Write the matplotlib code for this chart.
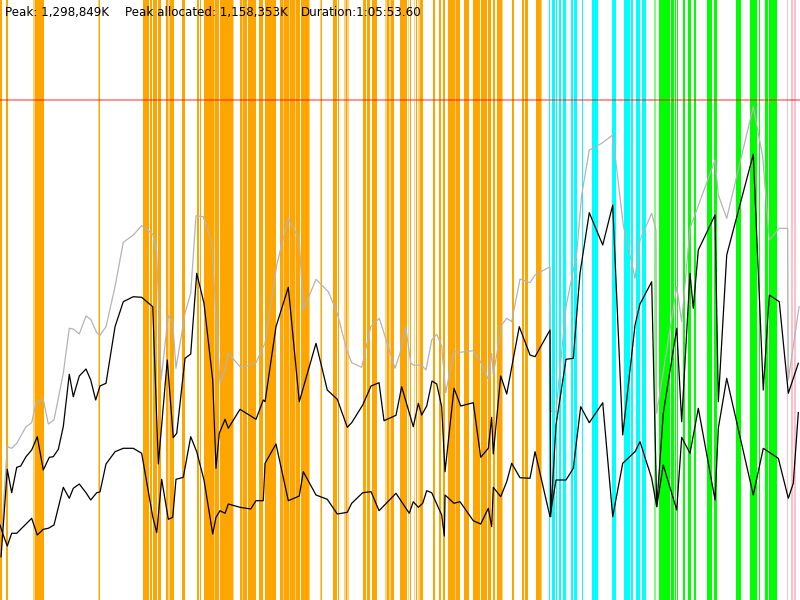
import matplotlib
matplotlib.use("Agg")
import matplotlib.pyplot as plt

# Units: x = % of run duration (1:05:53.60), y = % of peak heap (1,298,849K)
peak_label = "Peak: 1,298,849K"
alloc_label = "Peak allocated: 1,158,353K"
dur_label = "Duration:1:05:53.60"
peak_level = 100.0

heap_x = [0.21, 0.91, 1.46, 2.09, 3.25, 3.96, 4.5, 5.41, 6.04, 6.75, 7.91, 8.66, 9.16, 9.91,
          10.75, 11.34, 12.09, 12.5, 13.25, 14.38, 15.41, 16.66, 17.71, 19.09, 19.59, 20.13,
          21.04, 21.59, 22.0, 23.13, 23.84, 24.5, 25.41, 26.46, 27.5, 28.13, 28.54, 30.0, 30.84,
          32.0, 32.91, 33.13, 34.59, 36.04, 37.41, 37.91, 39.5, 41.04, 42.16, 43.34, 43.96,
          45.21, 46.34, 47.41, 48.34, 49.38, 50.0, 50.71, 51.34, 51.66, 52.71, 53.25, 53.96,
          54.59, 55.21, 55.71, 56.75, 57.5, 59.16, 60.0, 61.04, 61.46, 61.66, 62.71, 63.34,
          63.96, 65.0, 66.25, 66.88, 68.75, 68.88, 69.5, 70.75, 72.09, 72.71, 73.66, 75.21,
          76.59, 77.91, 79.38, 80.0, 81.46, 82.0, 82.09, 84.59, 85.21, 86.25, 89.38, 89.79,
          90.84, 94.16, 95.34, 96.16, 97.41, 98.46, 98.54, 99.88]
heap_y = [13.4, 30.66, 30.34, 31.34, 34.66, 35.46, 39.46, 40.14, 35.2, 36.0, 45.34, 54.34, 54.2,
          53.2, 56.8, 56.14, 53.46, 52.94, 54.66, 62.66, 71.54, 73.0, 74.86, 73.2, 69.66, 44.0,
          57.0, 55.46, 46.34, 57.34, 61.34, 76.86, 76.66, 71.66, 43.34, 46.0, 49.34, 46.66, 46.8,
          47.46, 50.66, 51.34, 67.0, 76.34, 72.14, 58.0, 64.14, 61.66, 57.34, 50.0, 47.46,
          46.54, 54.66, 56.34, 51.66, 46.34, 49.34, 54.66, 47.46, 47.0, 46.94, 46.0, 52.0,
          53.14, 50.8, 41.46, 49.66, 49.54, 49.86, 47.86, 44.14, 49.34, 45.0, 55.0, 56.34,
          55.66, 64.2, 63.46, 65.0, 66.66, 37.66, 37.66, 58.66, 69.34, 81.0, 90.0, 91.34,
          93.0, 75.0, 64.34, 72.0, 77.34, 74.0, 37.34, 62.66, 55.66, 74.34, 88.0, 81.0,
          76.34, 98.66, 88.66, 72.0, 74.34, 74.34, 44.0, 58.66]

used_x = [0.13, 0.91, 1.46, 2.09, 2.59, 3.25, 3.96, 4.66, 5.41, 6.16, 6.66, 7.29, 7.91, 8.66,
          9.16, 9.91, 10.75, 11.34, 11.96, 12.5, 13.25, 14.38, 15.41, 16.66, 17.71, 19.09,
          19.79, 20.91, 21.66, 22.09, 23.13, 23.84, 24.59, 25.5, 26.59, 27.0, 27.41, 28.13,
          28.54, 30.0, 32.0, 32.91, 33.13, 34.5, 36.04, 37.41, 39.5, 40.91, 42.16, 43.41,
          43.96, 45.34, 46.38, 47.38, 48.0, 49.5, 50.21, 51.66, 52.29, 52.71, 53.34, 54.0,
          54.59, 55.21, 55.63, 56.75, 57.59, 59.16, 60.09, 61.04, 61.46, 61.66, 62.59, 63.34,
          64.91, 66.25, 66.88, 68.75, 68.84, 69.5, 70.75, 71.66, 72.5, 73.66, 75.34, 76.59,
          77.84, 79.38, 80.0, 81.46, 82.09, 82.91, 84.59, 85.21, 86.25, 86.66, 87.29, 89.38,
          89.79, 90.84, 94.16, 95.41, 96.16, 97.41, 98.54, 99.79]
used_y = [8.66, 26.14, 21.46, 26.54, 26.8, 28.66, 30.0, 32.66, 26.0, 28.54, 28.66, 30.14, 34.66,
          45.14, 40.66, 44.8, 46.2, 44.0, 40.0, 42.8, 43.34, 54.66, 59.66, 60.66, 60.54, 58.66,
          27.2, 48.0, 32.46, 33.34, 48.34, 49.2, 65.34, 59.34, 44.0, 26.34, 33.34, 36.14,
          34.34, 38.14, 36.14, 40.0, 39.66, 54.66, 62.54, 39.66, 51.34, 42.0, 40.14, 34.54,
          35.46, 39.0, 42.8, 43.46, 35.86, 36.94, 42.66, 34.66, 39.34, 37.0, 38.8, 43.8,
          43.2, 38.66, 25.66, 42.34, 38.8, 39.46, 28.54, 30.34, 36.54, 29.2, 44.8, 41.2,
          54.66, 49.0, 48.66, 54.0, 16.66, 35.0, 48.14, 48.34, 65.34, 77.46, 71.0, 79.0,
          33.0, 55.0, 59.2, 63.66, 18.66, 37.34, 54.34, 35.66, 65.34, 58.34, 70.0, 77.0,
          39.66, 69.0, 89.14, 42.0, 61.0, 59.66, 41.34, 47.34]

live_x = [0.0, 0.41, 0.91, 1.46, 2.09, 2.71, 3.34, 3.96, 4.66, 5.41, 6.04, 6.75, 7.91, 8.66,
          9.16, 9.91, 10.75, 11.34, 12.09, 12.5, 13.25, 14.38, 15.41, 16.66, 17.71, 19.09,
          19.59, 20.21, 21.04, 21.59, 22.0, 22.91, 23.84, 24.59, 25.5, 26.59, 27.0, 27.5,
          28.13, 28.54, 30.0, 31.34, 32.0, 32.91, 33.13, 34.5, 36.04, 37.41, 37.91, 39.5,
          40.91, 42.16, 43.41, 43.96, 45.34, 46.38, 47.38, 49.5, 51.16, 51.66, 52.29, 52.84,
          53.34, 53.96, 55.21, 55.54, 55.63, 56.75, 57.5, 59.16, 60.09, 61.04, 61.46, 61.66,
          62.59, 63.34, 63.96, 65.0, 66.25, 66.88, 68.75, 69.5, 70.75, 71.66, 72.59, 73.66,
          75.34, 76.59, 77.84, 79.38, 80.0, 81.46, 82.09, 82.91, 84.59, 85.21, 86.25, 87.29,
          89.38, 89.79, 90.84, 94.16, 95.41, 97.29, 98.54, 99.16, 99.79]
live_y = [15.0, 13.0, 10.8, 13.34, 13.34, 14.34, 15.34, 16.34, 13.0, 14.14, 14.34, 15.0, 22.54,
          20.34, 22.34, 23.2, 21.46, 20.0, 21.46, 21.6, 27.2, 29.66, 30.34, 30.34, 29.34, 16.66,
          13.46, 24.14, 16.14, 16.54, 24.14, 24.54, 32.66, 29.66, 24.0, 13.2, 16.54, 17.86,
          17.34, 19.2, 18.54, 18.2, 19.86, 19.86, 27.34, 31.2, 19.86, 20.8, 25.66, 21.0,
          20.14, 17.2, 17.54, 19.34, 21.46, 21.66, 17.86, 21.34, 17.34, 19.66, 18.54, 19.34,
          21.86, 21.46, 17.0, 12.8, 21.0, 19.34, 19.66, 15.86, 15.2, 18.34, 14.66, 22.54,
          20.66, 23.66, 27.34, 24.46, 24.34, 29.66, 16.66, 24.0, 24.0, 26.34, 38.66, 35.46,
          39.46, 16.66, 27.34, 29.66, 31.66, 24.34, 18.66, 27.0, 18.0, 32.54, 29.34, 38.34,
          20.0, 34.34, 44.34, 21.0, 30.34, 28.34, 20.34, 23.34, 37.46]

# GC event bands: start, width (% of duration), kind
band_start = [0.0, 0.75, 4.13, 4.38, 12.21, 12.38, 17.84, 18.38, 18.71, 19.13, 19.75, 20.71,
              21.04, 21.25, 22.71, 24.59, 25.0, 25.5, 26.71, 26.84, 27.5, 29.09, 30.0, 30.21,
              30.34, 30.96, 32.38, 33.09, 35.0, 35.38, 35.5, 36.13, 36.25, 36.88, 37.0, 37.66,
              38.63, 40.0, 40.09, 41.59, 42.21, 43.0, 43.19, 45.41, 45.84, 46.46, 48.16, 48.34,
              48.63, 48.84, 50.0, 51.04, 51.25, 51.75, 52.0, 52.29, 52.5, 52.84, 54.16, 54.91,
              55.34, 56.04, 56.34, 56.41, 56.88, 56.96, 58.0, 59.09, 60.09, 61.0, 61.59, 62.16,
              62.71, 63.96, 65.25, 65.66, 67.0, 67.63,
              68.63, 68.96, 69.5, 69.84, 70.34, 71.38, 71.79, 72.71, 73.96, 76.46, 78.0, 78.88,
              79.5, 80.25,
              81.79, 82.41, 83.41, 83.88, 84.38, 84.59, 85.41, 86.04, 86.75, 88.41, 89.25, 92.0,
              93.75, 94.04, 94.71, 94.91, 95.63, 96.16, 96.5,
              98.34, 98.88, 99.29]
band_width = [0.25, 0.21, 0.25, 1.12, 0.12, 0.14, 0.5, 0.21, 0.29, 0.46, 0.41, 0.33,
              0.21, 0.46, 0.38, 0.29, 0.12, 1.21, 0.13, 0.54, 1.59, 0.2, 0.21, 0.13,
              0.5, 1.04, 0.46, 1.41, 0.38, 0.12, 0.63, 0.12, 0.63, 0.12, 0.5, 0.96,
              0.12, 0.09, 0.16, 0.58, 0.12, 0.63, 0.14, 0.3, 0.41, 0.7, 0.17, 0.29,
              0.21, 0.45, 0.84, 0.12, 0.12, 0.16, 0.16, 0.21, 0.34, 0.08, 0.17, 0.25,
              0.25, 0.3, 0.08, 0.46, 0.08, 0.54, 0.63, 0.91, 0.75, 0.34, 0.33, 0.55,
              0.12, 0.29, 0.25, 0.34, 0.63, 0.12,
              0.12, 0.41, 0.16, 0.33, 0.41, 0.21, 0.3, 0.2, 0.83, 0.54, 0.75, 0.21,
              0.5, 0.5,
              0.21, 0.92, 0.34, 0.38, 0.12, 0.12, 0.25, 0.3, 0.21, 0.55, 0.34, 0.59,
              0.21, 0.55, 0.08, 0.12, 0.41, 0.3, 0.59,
              0.16, 0.21, 0.21]
band_kind = (["young", "young", "young_l", "young", "young_l", "young", "young", "young",
              "young", "young", "young", "young", "young_l", "young", "young", "young", "young",
              "young", "young_l", "young", "young", "young_l", "young", "young_l", "young",
              "young", "young", "young", "young", "young_l", "young", "young_l", "young",
              "young_l", "young", "young", "young_l", "young_l", "young", "young", "young",
              "young_l", "young", "young", "young", "young", "young_l", "young", "young_l",
              "young", "young", "young_l", "young", "young_l", "young", "young_l", "young",
              "young_l", "young", "young", "young", "young", "young_l", "young", "young_l",
              "young", "young", "young", "young", "young", "young", "young", "young_l",
              "young", "young", "young", "young", "young_l"]
             + ["mixed"] * 14
             + ["green_l"] + ["full"] * 18
             + ["pink"] * 3)

kind_style = {
    "young": ("#FFA500", 1.0),
    "young_l": ("#FFA500", 0.5),
    "mixed": ("#00FFFF", 1.0),
    "full": ("#00FF00", 1.0),
    "green_l": ("#00FF00", 0.5),
    "pink": ("#FFC0CB", 1.0),
}

fig = plt.figure(figsize=(8, 6), dpi=100)
ax = fig.add_axes([0, 0, 1, 1])
ax.set_xlim(0, 100)
ax.set_ylim(0, 120)
ax.axis("off")

for s, w, k in zip(band_start, band_width, band_kind):
    c, a = kind_style[k]
    ax.axvspan(s, s + w, color=c, alpha=a, lw=0, zorder=1)

ax.axhline(peak_level, color="red", alpha=0.5, lw=1.2, zorder=2)

ax.plot(heap_x, heap_y, color="#B4B4B4", lw=0.9, zorder=3)
ax.plot(used_x, used_y, color="black", lw=0.9, zorder=4)
ax.plot(live_x, live_y, color="black", lw=0.9, zorder=4)

for xf, txt in [(0.00625, peak_label), (0.156, alloc_label), (0.376, dur_label)]:
    ax.text(xf, 0.9795, txt, transform=ax.transAxes, fontsize=8.6, color="black",
            va="center", ha="left", zorder=5, family="DejaVu Sans")

fig.savefig("out.png", dpi=100)
